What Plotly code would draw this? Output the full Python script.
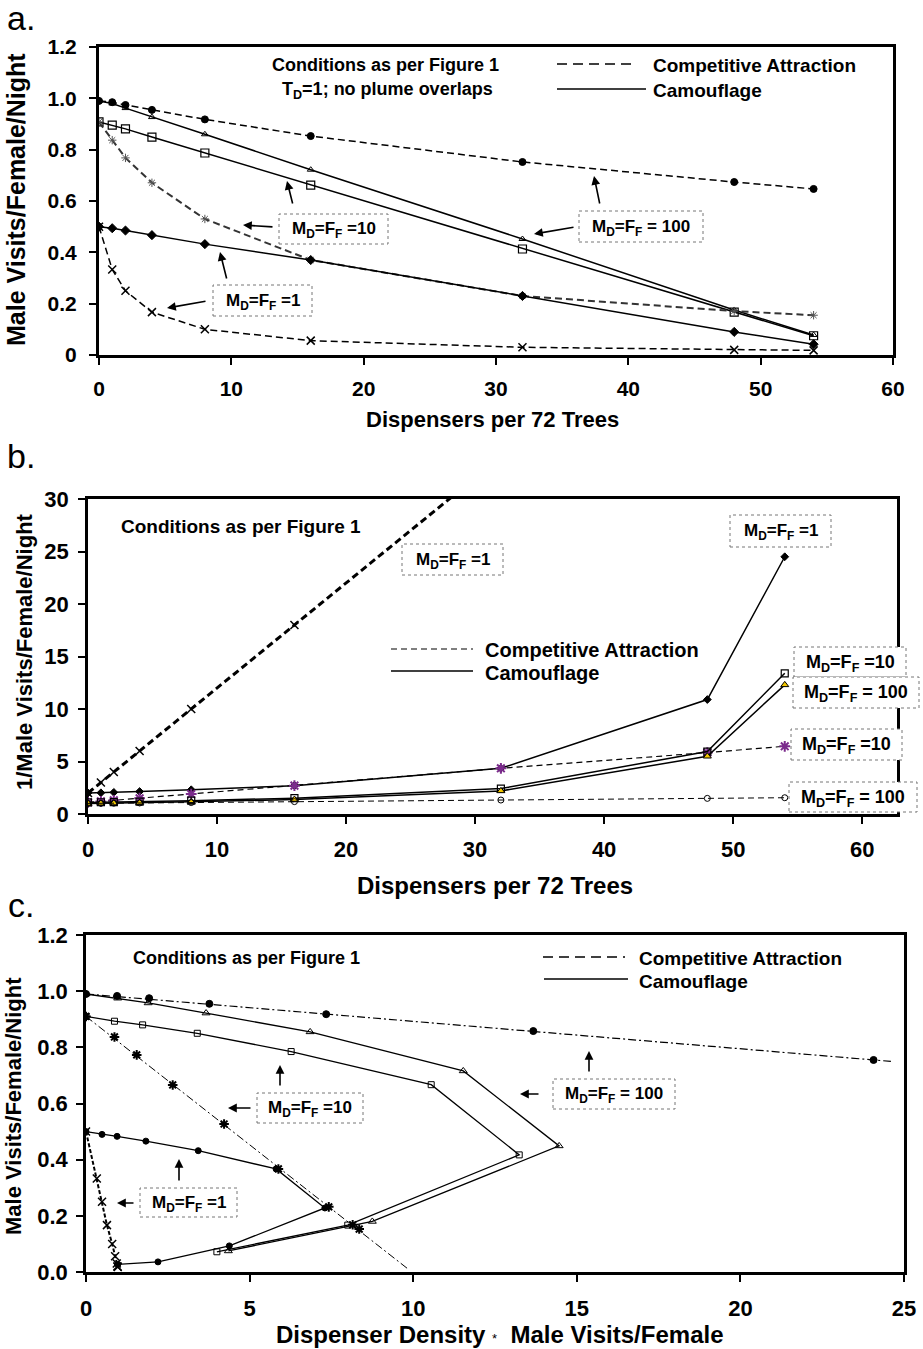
import plotly.graph_objects as go

W, H = 923, 1349
FONT = "Liberation Sans, Arial, Helvetica, sans-serif"

# ---------------- Panel a data ----------------
a_x = [0, 1, 2, 4, 8, 16, 32, 48, 54]
a_comp100 = [0.99, 0.985, 0.974, 0.955, 0.918, 0.853, 0.752, 0.674, 0.647]
a_camo100 = [0.99, 0.98, 0.962, 0.927, 0.86, 0.722, 0.452, 0.175, 0.078]
a_camo10 = [0.908, 0.896, 0.881, 0.849, 0.787, 0.662, 0.413, 0.167, 0.075]
a_comp10 = [0.908, 0.837, 0.768, 0.671, 0.53, 0.37, 0.23, 0.171, 0.155]
a_camo1 = [0.5, 0.494, 0.485, 0.467, 0.432, 0.37, 0.23, 0.09, 0.042]
a_comp1 = [0.5, 0.333, 0.25, 0.167, 0.1, 0.056, 0.03, 0.02, 0.018]

# ---------------- Panel b data ----------------
b_x = [0, 1, 2, 4, 8, 16, 32, 48, 54]
b_comp1 = [2, 3, 4, 6, 10, 18, 34, 50, 56]
b_camo1 = [2.0, 2.02, 2.06, 2.14, 2.31, 2.7, 4.35, 10.9, 24.5]
b_comp10 = [1.1, 1.2, 1.3, 1.5, 1.9, 2.7, 4.35, 5.85, 6.45]
b_camo10 = [1.1, 1.12, 1.14, 1.18, 1.27, 1.51, 2.42, 5.95, 13.4]
b_camo100 = [1.01, 1.02, 1.04, 1.08, 1.16, 1.38, 2.2, 5.5, 12.3]
b_comp100 = [1.01, 1.02, 1.03, 1.05, 1.09, 1.18, 1.33, 1.49, 1.55]

# ---------------- Panel c data ----------------
c_comp100_x = [0, 0.95, 1.93, 3.77, 7.34, 13.67, 24.07]
c_comp100_y = [0.99, 0.983, 0.975, 0.955, 0.918, 0.858, 0.755]
c_comp100_fit_x = [0, 24.6]
c_comp100_fit_y = [0.99, 0.75]
c_camo100_x = [0, 0.97, 1.9, 3.67, 6.85, 11.53, 14.46, 8.75, 4.35]
c_camo100_y = [0.99, 0.975, 0.958, 0.922, 0.855, 0.716, 0.449, 0.18, 0.075]
c_camo10_x = [0, 0.87, 1.73, 3.4, 6.27, 10.55, 13.24, 8.0, 4.0]
c_camo10_y = [0.91, 0.893, 0.88, 0.85, 0.785, 0.667, 0.417, 0.167, 0.072]
c_comp10_x = [0, 0.87, 1.55, 2.65, 4.22, 5.88, 7.42, 8.15, 8.35]
c_comp10_y = [0.91, 0.837, 0.773, 0.666, 0.527, 0.367, 0.232, 0.168, 0.153]
c_comp10_fit_x = [0, 9.85]
c_comp10_fit_y = [0.91, 0.01]
c_comp1_x = [0, 0.33, 0.49, 0.64, 0.8, 0.89, 0.94, 0.96, 0.97]
c_comp1_y = [0.5, 0.333, 0.25, 0.167, 0.1, 0.056, 0.03, 0.02, 0.018]
c_camo1_x = [0, 0.49, 0.95, 1.83, 3.43, 5.81, 7.3, 4.38, 2.2, 0.97]
c_camo1_y = [0.5, 0.49, 0.483, 0.466, 0.432, 0.367, 0.228, 0.093, 0.036, 0.027]

a_yticks = [0, 0.2, 0.4, 0.6, 0.8, 1.0, 1.2]
a_yticktext = ["0", "0.2", "0.4", "0.6", "0.8", "1.0", "1.2"]
c_yticktext = ["0.0", "0.2", "0.4", "0.6", "0.8", "1.0", "1.2"]


def px(x):
    return x / W


def py(y):
    return 1 - y / H


fig = go.Figure()


def line(x, y, ax, dash="solid", width=1.5, color="black", symbol=None,
         msize=7, mcolor="black", mline=1, mlinecolor=None, mode="lines+markers"):
    marker = dict(symbol=symbol or "circle", size=msize, color=mcolor,
                  line=dict(width=mline, color=mlinecolor or mcolor))
    fig.add_trace(go.Scatter(
        x=x, y=y, mode=mode if symbol else "lines", xaxis="x" + ax, yaxis="y" + ax,
        line=dict(color=color, width=width, dash=dash), marker=marker,
        showlegend=False, hoverinfo="skip"))


# ---- panel a traces ----
line(a_x, a_comp100, "", dash="7px,4px", symbol="circle", msize=7)
line(a_x, a_camo100, "", symbol="triangle-up-open", msize=6, mline=1)
line(a_x, a_camo10, "", symbol="square-open", msize=8, mline=1.2)
line(a_x, a_comp10, "", dash="7px,4px", width=2, color="#333", symbol="asterisk-open",
     msize=7, mcolor="#555", mline=1)
line(a_x, a_camo1, "", symbol="diamond", msize=7)
line(a_x, a_comp1, "", dash="7px,4px", symbol="x-thin-open", msize=8, mline=1.5)

# ---- panel b traces ----
PURPLE = "#7B2B8C"
YELLOW = "#F2C600"
line(b_x, b_comp1, "2", dash="7px,4px", width=3, symbol="x-thin-open", msize=8, mline=1.5)
line(b_x, b_camo1, "2", width=1.5, symbol="diamond", msize=6)
line(b_x, b_comp10, "2", dash="6px,4px", width=1.2, symbol="asterisk-open", msize=9,
     mcolor=PURPLE, mline=2)
line(b_x, b_camo10, "2", width=1.5, symbol="square-open", msize=7, mline=1.2)
line(b_x, b_camo100, "2", width=1.5, symbol="triangle-up", msize=7, mcolor=YELLOW,
     mline=1, mlinecolor="black")
line(b_x, b_comp100, "2", dash="6px,4px", width=1.0, symbol="circle-open", msize=6, mline=1)

# ---- panel c traces ----
line(c_comp100_fit_x, c_comp100_fit_y, "3", dash="8px,3px,2px,3px", width=1.2)
line(c_comp100_x, c_comp100_y, "3", symbol="circle", msize=7, mode="markers")
line(c_camo100_x, c_camo100_y, "3", width=1.3, symbol="triangle-up-open", msize=7, mline=1)
line(c_camo10_x, c_camo10_y, "3", width=1.3, symbol="square-open", msize=6, mline=1)
line(c_comp10_fit_x, c_comp10_fit_y, "3", dash="8px,3px,2px,3px", width=1.0)
line(c_comp10_x, c_comp10_y, "3", symbol="asterisk-open", msize=8, mline=2, mode="markers")
line(c_comp1_x, c_comp1_y, "3", dash="4px,2px", width=2, symbol="x-thin-open", msize=8, mline=1.5)
line(c_camo1_x, c_camo1_y, "3", width=1.3, symbol="circle", msize=6)


def axis(domain, rng, dtick=None, tickvals=None, ticktext=None, lw=3, standoff=8, size=21):
    d = dict(domain=domain, range=rng, showgrid=False, zeroline=False,
             showline=True, linecolor="black", linewidth=lw, mirror=True,
             ticks="outside", ticklen=7, tickwidth=2, tickcolor="black",
             tickfont=dict(family=FONT, size=size, color="black", weight="bold"),
             ticklabelstandoff=standoff, fixedrange=True, automargin=False)
    if tickvals is not None:
        d.update(tickmode="array", tickvals=tickvals, ticktext=ticktext)
    else:
        d.update(tickmode="linear", tick0=0, dtick=dtick)
    return d


fig.update_layout(
    width=W, height=H, margin=dict(l=0, r=0, t=0, b=0, pad=0, autoexpand=False),
    paper_bgcolor="white", plot_bgcolor="white",
    xaxis=dict(axis([px(99), px(893)], [0, 60], dtick=10, standoff=6), anchor="y"),
    yaxis=dict(axis([py(355), py(47)], [0, 1.2], tickvals=a_yticks, ticktext=a_yticktext,
                    standoff=8), anchor="x"),
    xaxis2=dict(axis([px(88), px(897)], [0, 62.7], dtick=10, standoff=7, size=22, lw=2.5),
                anchor="y2"),
    yaxis2=dict(axis([py(814), py(499)], [0, 30], dtick=5, standoff=5, size=22, lw=2.5),
                anchor="x2"),
    xaxis3=dict(axis([px(86), px(904)], [0, 25], dtick=5, standoff=8, size=22, lw=2.5),
                anchor="y3"),
    yaxis3=dict(axis([py(1272), py(935)], [0, 1.2], tickvals=a_yticks, ticktext=c_yticktext,
                     standoff=4, size=22, lw=2.5), anchor="x3"),
)

ann = []
shapes = []


def text(x, y, s, size=19, bold=True, xanchor="center", angle=0, color="black"):
    ann.append(dict(x=px(x), y=py(y), xref="paper", yref="paper", text=s, showarrow=False,
                    xanchor=xanchor, yanchor="middle", textangle=angle,
                    font=dict(family=FONT, size=size, color=color,
                              weight="bold" if bold else "normal")))


def arrow(tx, ty, hx, hy):
    ann.append(dict(x=px(hx), y=py(hy), xref="paper", yref="paper", text="",
                    showarrow=True, ax=tx - hx, ay=ty - hy, arrowhead=2, arrowsize=1.1,
                    arrowwidth=1.6, arrowcolor="black"))


def box(x0, y0, x1, y1, s, size=17):
    shapes.append(dict(type="rect", xref="paper", yref="paper", x0=px(x0), x1=px(x1),
                       y0=py(y1), y1=py(y0), line=dict(color="#777", width=1, dash="dot"),
                       fillcolor="white", layer="above"))
    text((x0 + x1) / 2, (y0 + y1) / 2 + 1, s, size=size)


def hline(x0, x1, y, dash="solid", width=1.5):
    shapes.append(dict(type="line", xref="paper", yref="paper", x0=px(x0), x1=px(x1),
                       y0=py(y), y1=py(y), line=dict(color="black", width=width, dash=dash)))


M10 = "M<sub>D</sub>=F<sub>F</sub> =10"
M1 = "M<sub>D</sub>=F<sub>F</sub> =1"
M100 = "M<sub>D</sub>=F<sub>F</sub> = 100"

# ---- panel a annotations ----
text(21, 18, "a.", size=34, bold=False)
text(385, 65, "Conditions as per Figure 1", size=18)
text(387, 90, "T<sub>D</sub>=1; no plume overlaps", size=18)
hline(557, 636, 64, dash="10px,6px", width=1.5)
hline(557, 646, 89, width=1.5)
text(651, 65, "Competitive Attraction", size=19, xanchor="left")
text(651, 90, "Camouflage", size=19, xanchor="left")
box(279, 214, 388, 244, M10)
box(213, 285, 312, 316, M1)
box(579, 211, 703, 242, M100)
arrow(274, 227, 243, 225)
arrow(293, 205, 287, 181)
arrow(207, 301, 167, 308)
arrow(227, 280, 220, 252)
arrow(575, 227, 534, 234)
arrow(600, 205, 594, 176)
text(492, 420, "Dispensers per 72 Trees", size=22)
text(16, 200, "Male Visits/Female/Night", size=25, angle=-90)

# ---- panel b annotations ----
text(21, 456, "b.", size=34, bold=False)
text(241, 526, "Conditions as per Figure 1", size=19)
hline(391, 473, 649, dash="6px,4px", width=1.2)
hline(391, 473, 671, width=1.5)
text(483, 650, "Competitive Attraction", size=20, xanchor="left")
text(483, 673, "Camouflage", size=20, xanchor="left")
box(402, 544, 503, 575, M1)
box(730, 515, 831, 547, M1)
box(794, 647, 906, 677, M10, size=18)
box(793, 677, 919, 708, M100, size=18)
box(791, 729, 902, 760, M10, size=18)
box(789, 782, 917, 812, M100, size=18)
text(495, 885, "Dispensers per 72 Trees", size=24)
text(24, 652, "1/Male Visits/Female/Night", size=22, angle=-90)

# ---- panel c annotations ----
text(21, 905, "c.", size=34, bold=False)
text(247, 958, "Conditions as per Figure 1", size=18)
hline(543, 625, 957, dash="10px,6px", width=1.5)
hline(544, 628, 979, width=1.5)
text(637, 958, "Competitive Attraction", size=19, xanchor="left")
text(637, 981, "Camouflage", size=19, xanchor="left")
box(257, 1093, 363, 1123, M10)
box(140, 1188, 237, 1217, M1)
box(553, 1079, 675, 1109, M100)
arrow(252, 1108, 228, 1108)
arrow(280, 1087, 280, 1065)
arrow(135, 1203, 117, 1203)
arrow(179, 1182, 179, 1159)
arrow(540, 1094, 520, 1094)
arrow(589, 1073, 589, 1051)
text(500, 1334, "Dispenser Density <span style='font-size:13px;font-weight:normal'>*</span>  Male Visits/Female",
     size=24)
text(13, 1106, "Male Visits/Female/Night", size=22, angle=-90)

fig.update_layout(annotations=ann, shapes=shapes)
fig.write_html("out.html", config={"displayModeBar": False},
               post_script="document.body.style.margin='0px';document.body.style.overflow='hidden';")
